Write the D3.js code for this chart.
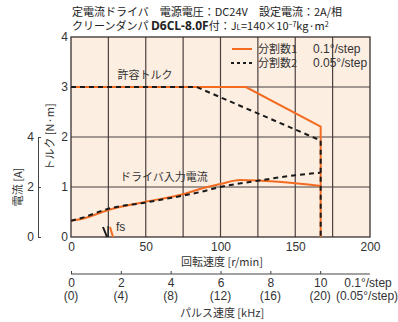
<!DOCTYPE html>
<html lang="ja">
	<head>
		<meta charset="utf-8">
		<title>speed torque</title>
		<script type="text/javascript" src="https://cdn.jsdelivr.net/npm/d3@7"></script>
		<style type="text/css">
			body { margin: 0; background: #fff; }
			text { font-family: "Liberation Sans Narrow", "Liberation Sans", "Noto Sans CJK JP", sans-serif; fill: #333; }
			.jp { font-family: "Noto Sans CJK JP", sans-serif; }
		</style>
	</head>
	<body>
		<script type="text/javascript">

			var w = 398;
			var h = 322;

			// speed [r/min] / torque [N.m]
			var torqueSpeed1 = [0, 117, 167, 167];
			var torque1 = [3, 3, 2.21, 0];
			var torqueSpeed2 = [0, 84, 167, 167];
			var torque2 = [3, 3, 1.93, 0];

			// speed [r/min] / driver input current [A]
			var currentSpeed1 = [0, 7, 25, 50, 75, 88, 100, 113, 125, 150, 167];
			var current1 = [0.65, 0.72, 1.08, 1.41, 1.71, 1.95, 2.12, 2.28, 2.26, 2.15, 2.04];
			var currentSpeed2 = [0, 7, 25, 50, 75, 88, 100, 125, 150, 167];
			var current2 = [0.65, 0.76, 1.13, 1.38, 1.66, 1.82, 2.0, 2.25, 2.47, 2.57];

			var speedTicks = [0, 50, 100, 150, 200];
			var torqueTicks = [0, 1, 2, 3, 4];
			var currentTicks = [0, 2, 4];
			var pulseTicks = [0, 2, 4, 6, 8, 10];
			var pulseTicks2 = ["(0)", "(4)", "(8)", "(12)", "(16)", "(20)"];

			var orange = "#f26b21";

			var xScale = d3.scaleLinear().domain([0, 200]).range([71, 370]);
			var yScale = d3.scaleLinear().domain([0, 4]).range([237, 37]);
			var aScale = d3.scaleLinear().domain([0, 4]).range([237, 137]);
			// 10 kHz at 0.1deg/step = 166.7 r/min
			var pScale = d3.scaleLinear().domain([0, 10]).range([xScale(0), xScale(500 / 3)]);

			var svg = d3.select("body")
						.append("svg")
						.attr("width", w)
						.attr("height", h);

			// plot background
			svg.append("rect")
				.attr("x", xScale(0))
				.attr("y", yScale(4))
				.attr("width", xScale(200) - xScale(0))
				.attr("height", yScale(0) - yScale(4))
				.style("fill", "#fdeee2");

			// grid
			svg.selectAll("line.vg")
				.data(d3.range(25, 200, 25))
				.enter()
				.append("line")
				.attr("x1", function(d) { return xScale(d); })
				.attr("x2", function(d) { return xScale(d); })
				.attr("y1", yScale(0))
				.attr("y2", yScale(4))
				.style("stroke", "#4a4040")
				.style("stroke-width", 1.2);

			svg.selectAll("line.hg")
				.data([1, 2, 3])
				.enter()
				.append("line")
				.attr("x1", xScale(0))
				.attr("x2", xScale(200))
				.attr("y1", function(d) { return yScale(d); })
				.attr("y2", function(d) { return yScale(d); })
				.style("stroke", "#4a4040")
				.style("stroke-width", 1.2);

			svg.append("rect")
				.attr("x", xScale(0))
				.attr("y", yScale(4))
				.attr("width", xScale(200) - xScale(0))
				.attr("height", yScale(0) - yScale(4))
				.style("fill", "none")
				.style("stroke", "#3a3030")
				.style("stroke-width", 1.3);

			// axes
			var xAxis = d3.axisBottom(xScale).tickValues(speedTicks).tickSize(0).tickPadding(5)
				.tickFormat(d3.format("d"));
			var gx = svg.append("g")
				.attr("transform", "translate(0," + yScale(0) + ")")
				.call(xAxis);
			gx.select(".domain").remove();
			gx.selectAll("text").style("font-size", "12px");

			var yAxis = d3.axisLeft(yScale).tickValues(torqueTicks).tickSize(0).tickPadding(3)
				.tickFormat(d3.format("d"));
			var gy = svg.append("g")
				.attr("transform", "translate(" + xScale(0) + ",0)")
				.call(yAxis);
			gy.select(".domain").remove();
			gy.selectAll("text").style("font-size", "12px");

			var aAxis = d3.axisLeft(aScale).tickValues(currentTicks).tickSizeInner(-3).tickSizeOuter(0).tickPadding(4)
				.tickFormat(d3.format("d"));
			var ga = svg.append("g")
				.attr("transform", "translate(38,0)")
				.call(aAxis);
			ga.selectAll("path, line").style("stroke", "#444");
			ga.selectAll("text").style("font-size", "12px");

			// pulse speed axis
			var pAxis = d3.axisBottom(pScale).tickValues(pulseTicks).tickSizeInner(-3).tickSizeOuter(0).tickPadding(4)
				.tickFormat(d3.format("d"));
			var gp = svg.append("g")
				.attr("transform", "translate(0,274)")
				.call(pAxis);
			gp.select(".domain").attr("d", "M" + xScale(0) + ",0H" + xScale(200));
			gp.selectAll("path, line").style("stroke", "#444");
			gp.selectAll("text").style("font-size", "12px");

			svg.selectAll("text.p2")
				.data(pulseTicks)
				.enter()
				.append("text")
				.attr("x", function(d) { return pScale(d); })
				.attr("y", 300)
				.attr("text-anchor", "middle")
				.style("font-size", "12px")
				.text(function(d, i) { return pulseTicks2[i]; });

			svg.append("text").attr("x", 368).attr("y", 287).attr("text-anchor", "middle")
				.style("font-size", "12px").text("0.1°/step");
			svg.append("text").attr("x", 367).attr("y", 300).attr("text-anchor", "middle")
				.style("font-size", "12px").text("(0.05°/step)");

			// curves
			var line = d3.line()
				.x(function(d) { return xScale(d[0]); })
				.y(function(d) { return yScale(d[1]); });
			var aLine = d3.line()
				.x(function(d) { return xScale(d[0]); })
				.y(function(d) { return aScale(d[1]); })
				.curve(d3.curveMonotoneX);

			svg.append("path")
				.datum(d3.zip(currentSpeed1, current1))
				.attr("d", aLine)
				.style("fill", "none").style("stroke", orange).style("stroke-width", 2);
			svg.append("path")
				.datum(d3.zip(torqueSpeed1, torque1))
				.attr("d", line)
				.style("fill", "none").style("stroke", orange).style("stroke-width", 2);
			svg.append("path")
				.datum(d3.zip(currentSpeed2, current2))
				.attr("d", aLine)
				.style("fill", "none").style("stroke", "#1a1a1a").style("stroke-width", 2)
				.style("stroke-dasharray", "5,4");
			svg.append("path")
				.datum(d3.zip(torqueSpeed2, torque2))
				.attr("d", line)
				.style("fill", "none").style("stroke", "#1a1a1a").style("stroke-width", 2)
				.style("stroke-dasharray", "5,4");

			// fs marks
			svg.append("line")
				.attr("x1", xScale(21.4)).attr("y1", yScale(0.2))
				.attr("x2", xScale(24.1)).attr("y2", yScale(0))
				.style("stroke", "#1a1a1a").style("stroke-width", 2);
			svg.append("line")
				.attr("x1", xScale(24.8)).attr("y1", yScale(0.22))
				.attr("x2", xScale(24.8)).attr("y2", yScale(0))
				.style("stroke", "#1a1a1a").style("stroke-width", 1.3);
			svg.append("line")
				.attr("x1", xScale(26.1)).attr("y1", yScale(0.2))
				.attr("x2", xScale(28.1)).attr("y2", yScale(0))
				.style("stroke", orange).style("stroke-width", 2);
			svg.append("text").attr("x", 116).attr("y", 231)
				.style("font-size", "12px").text("fs");

			// labels in plot
			svg.append("text").attr("class", "jp").attr("x", 145).attr("y", 79)
				.attr("text-anchor", "middle").style("font-size", "11px").text("許容トルク");
			svg.append("text").attr("class", "jp").attr("x", 120).attr("y", 181)
				.style("font-size", "11px").text("ドライバ入力電流");

			// legend
			svg.append("line").attr("x1", 232).attr("x2", 252).attr("y1", 49).attr("y2", 49)
				.style("stroke", orange).style("stroke-width", 2);
			svg.append("line").attr("x1", 231).attr("x2", 252).attr("y1", 63).attr("y2", 63)
				.style("stroke", "#1a1a1a").style("stroke-width", 2).style("stroke-dasharray", "3,3");
			svg.append("text").attr("class", "jp").attr("x", 258).attr("y", 53)
				.style("font-size", "11px").text("分割数1");
			svg.append("text").attr("class", "jp").attr("x", 258).attr("y", 67)
				.style("font-size", "11px").text("分割数2");
			svg.append("text").attr("x", 313).attr("y", 53)
				.style("font-size", "12px").text("0.1°/step");
			svg.append("text").attr("x", 313).attr("y", 67)
				.style("font-size", "12px").text("0.05°/step");

			// axis titles
			svg.append("text").attr("class", "jp").attr("x", 222).attr("y", 266)
				.attr("text-anchor", "middle").style("font-size", "11px").text("回転速度 [r/min]");
			svg.append("text").attr("class", "jp").attr("x", 222).attr("y", 317)
				.attr("text-anchor", "middle").style("font-size", "11px").text("パルス速度 [kHz]");
			svg.append("text").attr("class", "jp")
				.attr("transform", "translate(54,137) rotate(-90)")
				.attr("text-anchor", "middle").style("font-size", "11px").text("トルク [N·m]");
			svg.append("text").attr("class", "jp")
				.attr("transform", "translate(22,187) rotate(-90)")
				.attr("text-anchor", "middle").style("font-size", "11px").text("電流 [A]");

			// title
			svg.append("text").attr("class", "jp").attr("x", 72).attr("y", 16)
				.style("font-size", "11px").style("fill", "#222")
				.text("定電流ドライバ　電源電圧：DC24V　設定電流：2A/相");
			var t2 = svg.append("text").attr("class", "jp").attr("x", 72).attr("y", 30)
				.style("font-size", "11px").style("fill", "#222");
			t2.append("tspan").text("クリーンダンパ ");
			t2.append("tspan").style("font-weight", "bold").style("font-size", "12px")
				.style("font-family", "'Open Sans', sans-serif").text("D6CL-8.0F");
			t2.append("tspan").text("付：J");
			t2.append("tspan").style("font-size", "8px").text("L");
			t2.append("tspan").text("=140×10");
			t2.append("tspan").attr("dy", -3).style("font-size", "7px").text("−7");
			t2.append("tspan").attr("dy", 3).text("kg·m");
			t2.append("tspan").attr("dy", -3).style("font-size", "7px").text("2");

		</script>
	</body>
</html>
